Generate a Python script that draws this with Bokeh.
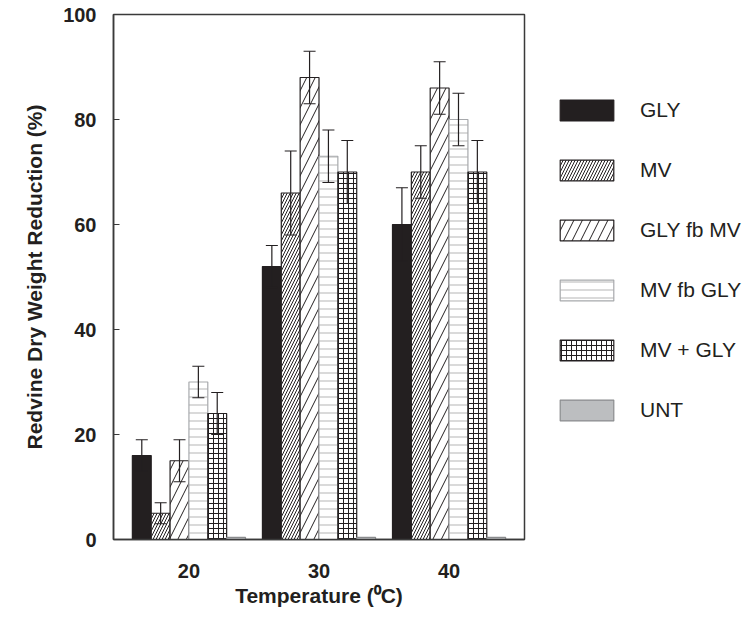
from bokeh.plotting import figure
from bokeh.models import (FactorRange, Range1d, Legend, LegendItem, Whisker,
                          ColumnDataSource, TeeHead)
from bokeh.transform import dodge
from bokeh.embed import file_html
from bokeh.resources import INLINE

# ---- data ----
temps = ["20", "30", "40"]
series = ["GLY", "MV", "GLY fb MV", "MV fb GLY", "MV + GLY", "UNT"]

gly = [16, 52, 60]
gly_err = [3, 4, 7]
mv = [5, 66, 70]
mv_err = [2, 8, 5]
gly_fb_mv = [15, 88, 86]
gly_fb_mv_err = [4, 5, 5]
mv_fb_gly = [30, 73, 80]
mv_fb_gly_err = [3, 5, 5]
mv_plus_gly = [24, 70, 70]
mv_plus_gly_err = [4, 6, 6]
unt = [0.4, 0.4, 0.4]
unt_err = [0, 0, 0]

values = [gly, mv, gly_fb_mv, mv_fb_gly, mv_plus_gly, unt]
errors = [gly_err, mv_err, gly_fb_mv_err, mv_fb_gly_err, mv_plus_gly_err, unt_err]

TXT = "#231f20"
styles = [
    dict(fill_color="#231f20", line_color="#231f20"),
    dict(fill_color="white", line_color="#231f20", hatch_pattern="/",
         hatch_color="#231f20", hatch_scale=6, hatch_weight=1),
    dict(fill_color="white", line_color="#231f20", hatch_pattern="/",
         hatch_color="#231f20", hatch_scale=17, hatch_weight=1),
    dict(fill_color="white", line_color="#a7a9ac", hatch_pattern="-",
         hatch_color="#b5b5b5", hatch_scale=8, hatch_weight=1),
    dict(fill_color="white", line_color="#231f20", hatch_pattern="+",
         hatch_color="#231f20", hatch_scale=5, hatch_weight=1),
    dict(fill_color="#bcbec0", line_color="#8a8c8e"),
]

p = figure(x_range=FactorRange(*temps, range_padding=0.08,
                               range_padding_units="absolute"),
           y_range=Range1d(0, 100),
           frame_width=411, frame_height=525,
           min_border_left=113, min_border_top=14, min_border_bottom=78,
           min_border_right=222,
           output_backend="svg", toolbar_location=None)

bw = 0.145
items = []
for i, name in enumerate(series):
    off = (i - 2.5) * bw
    vals = values[i]
    errs = errors[i]
    src = ColumnDataSource(dict(
        temp=temps, top=vals,
        upper=[v + e for v, e in zip(vals, errs)],
        lower=[v - e for v, e in zip(vals, errs)]))
    r = p.vbar(x=dodge("temp", off, range=p.x_range), top="top", width=bw,
               source=src, line_width=1.2, **styles[i])
    items.append(LegendItem(label=name, renderers=[r]))
    if name != "UNT":
        wk = Whisker(base=dodge("temp", off, range=p.x_range), upper="upper",
                     lower="lower", source=src, line_color=TXT, line_width=1.2,
                     level="annotation",
                     upper_head=TeeHead(size=12, line_color=TXT, line_width=1.2),
                     lower_head=TeeHead(size=12, line_color=TXT, line_width=1.2))
        p.add_layout(wk)

legend = Legend(items=items, glyph_width=67, glyph_height=26, spacing=34,
                label_standoff=20, padding=0, margin=0,
                border_line_color=None, background_fill_alpha=0,
                label_text_font="Liberation Sans", label_text_font_size="21px",
                label_text_color=TXT, label_height=26,
                location=(29, 116))
p.add_layout(legend, "right")

p.xgrid.visible = False
p.ygrid.visible = False
p.outline_line_color = "#3a3a3a"
p.outline_line_width = 1.5

p.yaxis.ticker = [0, 20, 40, 60, 80, 100]
p.yaxis.major_tick_in = 6
p.yaxis.major_tick_out = 0
p.yaxis.minor_tick_line_color = None
p.yaxis.axis_line_color = "#3a3a3a"
p.yaxis.axis_line_width = 1.5
p.yaxis.major_tick_line_color = "#3a3a3a"
p.yaxis.major_label_standoff = 17
p.yaxis.axis_label = "Redvine Dry Weight Reduction (%)"
p.yaxis.axis_label_standoff = 14

p.xaxis.major_tick_line_color = None
p.xaxis.axis_line_color = "#3a3a3a"
p.xaxis.axis_line_width = 1.5
p.xaxis.major_label_standoff = 18
p.xaxis.axis_label = "Temperature (\u2070C)"
p.xaxis.axis_label_standoff = 3

for ax in (p.xaxis[0], p.yaxis[0]):
    ax.major_label_text_font = "Liberation Sans"
    ax.major_label_text_font_style = "bold"
    ax.major_label_text_font_size = "20px"
    ax.major_label_text_color = TXT
    ax.axis_label_text_font = "Liberation Sans"
    ax.axis_label_text_font_style = "bold"
    ax.axis_label_text_font_size = "21px"
    ax.axis_label_text_color = TXT

open("out.html", "w").write(file_html(p, INLINE))
